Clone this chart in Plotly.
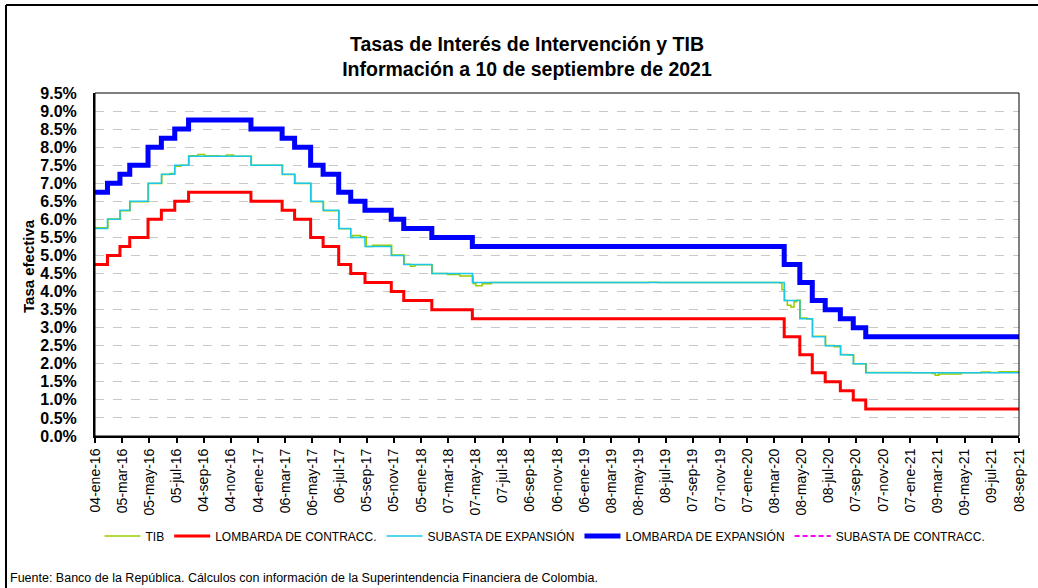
import plotly.graph_objects as go
from datetime import date

# fechas de vigencia de cada cambio de tasa (la ultima es el cierre de la serie)
fechas = ["2016-01-04", "2016-02-01", "2016-02-29", "2016-03-22", "2016-05-02",
          "2016-06-01", "2016-07-01", "2016-08-01", "2016-12-19", "2017-02-27",
          "2017-03-27", "2017-05-02", "2017-05-30", "2017-07-04", "2017-07-31",
          "2017-09-01", "2017-10-30", "2017-11-27", "2018-01-29", "2018-04-30",
          "2020-03-30", "2020-05-04", "2020-06-01", "2020-06-30", "2020-08-03",
          "2020-09-01", "2020-09-29", "2021-09-10"]

# tasas en %
lombarda_exp = [6.75, 7.00, 7.25, 7.50, 8.00, 8.25, 8.50, 8.75, 8.50, 8.25,
                8.00, 7.50, 7.25, 6.75, 6.50, 6.25, 6.00, 5.75, 5.50, 5.25,
                4.75, 4.25, 3.75, 3.50, 3.25, 3.00, 2.75, 2.75]
subasta_exp = [5.75, 6.00, 6.25, 6.50, 7.00, 7.25, 7.50, 7.75, 7.50, 7.25,
               7.00, 6.50, 6.25, 5.75, 5.50, 5.25, 5.00, 4.75, 4.50, 4.25,
               3.75, 3.25, 2.75, 2.50, 2.25, 2.00, 1.75, 1.75]
lombarda_contr = [4.75, 5.00, 5.25, 5.50, 6.00, 6.25, 6.50, 6.75, 6.50, 6.25,
                  6.00, 5.50, 5.25, 4.75, 4.50, 4.25, 4.00, 3.75, 3.50, 3.25,
                  2.75, 2.25, 1.75, 1.50, 1.25, 1.00, 0.75, 0.75]

# TIB diaria (aprox.)
tib_fechas = ["2016-01-04", "2016-02-02", "2016-03-01", "2016-03-23", "2016-05-03",
              "2016-06-02", "2016-06-20", "2016-07-01", "2016-07-15", "2016-08-02",
              "2016-08-22", "2016-09-06", "2016-10-10", "2016-10-25", "2016-11-10",
              "2016-12-20", "2017-02-28", "2017-03-28", "2017-05-03", "2017-05-31",
              "2017-07-05", "2017-07-31", "2017-08-04", "2017-08-22", "2017-09-04",
              "2017-09-18", "2017-10-31", "2017-11-28", "2017-12-12", "2017-12-22",
              "2018-01-30", "2018-03-05", "2018-04-02", "2018-05-02", "2018-05-08",
              "2018-05-22", "2018-06-12", "2019-06-01", "2019-06-20", "2020-03-20",
              "2020-03-25", "2020-03-31", "2020-04-06", "2020-04-14", "2020-04-21",
              "2020-04-27", "2020-05-05", "2020-05-20", "2020-06-02", "2020-07-01",
              "2020-07-20", "2020-08-04", "2020-08-20", "2020-09-02", "2020-09-30",
              "2021-01-10", "2021-02-25", "2021-03-04", "2021-03-12", "2021-05-01",
              "2021-06-15", "2021-07-05", "2021-07-25", "2021-09-10"]
tib = [5.77, 6.01, 6.24, 6.49, 6.99,
       7.24, 7.27, 7.47, 7.50, 7.76,
       7.80, 7.76, 7.75, 7.78, 7.75,
       7.50, 7.24, 6.99, 6.49, 6.24,
       5.74, 5.50, 5.55, 5.52, 5.25,
       5.28, 5.01, 4.76, 4.70, 4.74,
       4.50, 4.47, 4.43, 4.22, 4.16,
       4.22, 4.25, 4.26, 4.25, 4.24,
       4.05, 3.75, 3.62, 3.57, 3.72,
       3.76, 3.27, 3.24, 2.76, 2.51,
       2.47, 2.26, 2.24, 2.00, 1.76,
       1.75, 1.73, 1.68, 1.72, 1.75,
       1.77, 1.76, 1.78, 1.77]

etiquetas_x = ["04-ene-16", "05-mar-16", "05-may-16", "05-jul-16", "04-sep-16",
               "04-nov-16", "04-ene-17", "06-mar-17", "06-may-17", "06-jul-17",
               "05-sep-17", "05-nov-17", "05-ene-18", "07-mar-18", "07-may-18",
               "07-jul-18", "06-sep-18", "06-nov-18", "06-ene-19", "08-mar-19",
               "08-may-19", "08-jul-19", "07-sep-19", "07-nov-19", "07-ene-20",
               "08-mar-20", "08-may-20", "08-jul-20", "07-sep-20", "07-nov-20",
               "07-ene-21", "09-mar-21", "09-may-21", "09-jul-21", "08-sep-21"]

meses = {"ene": 1, "feb": 2, "mar": 3, "abr": 4, "may": 5, "jun": 6,
         "jul": 7, "ago": 8, "sep": 9, "oct": 10, "nov": 11, "dic": 12}
ticks_x = []
for e in etiquetas_x:
    d, m, a = e.split("-")
    ticks_x.append(date(2000 + int(a), meses[m], int(d)).isoformat())

# area de trazado en pixeles de la pagina
L, R, T, B = 95, 1019, 93, 436


def px(x):
    return (x - L) / (R - L)


def py(y):
    return (B - y) / (B - T)


fig = go.Figure()
fig.add_trace(go.Scatter(x=tib_fechas, y=tib, name="TIB", mode="lines",
                         line=dict(color="#99CC00", width=1.5, shape="hv")))
fig.add_trace(go.Scatter(x=fechas, y=lombarda_contr, name="LOMBARDA DE CONTRACC.", mode="lines",
                         line=dict(color="#FF0000", width=3, shape="hv")))
fig.add_trace(go.Scatter(x=fechas, y=subasta_exp, name="SUBASTA DE EXPANSIÓN", mode="lines",
                         line=dict(color="#1CC8EA", width=1.5, shape="hv")))
fig.add_trace(go.Scatter(x=fechas, y=lombarda_exp, name="LOMBARDA DE EXPANSIÓN", mode="lines",
                         line=dict(color="#0000FF", width=5, shape="hv")))
fig.add_trace(go.Scatter(x=[None], y=[None], name="SUBASTA DE CONTRACC.", mode="lines",
                         line=dict(color="#FF00FF", width=2, dash="5px,3px")))

fig.update_xaxes(
    type="date",
    range=[ticks_x[0], ticks_x[-1]],
    tickmode="array", tickvals=ticks_x, ticktext=etiquetas_x,
    tickangle=-90, tickfont=dict(size=14),
    ticks="outside", ticklen=5, tickwidth=1.5, tickcolor="black",
    showline=True, linecolor="black", linewidth=2,
    showgrid=False, zeroline=False,
)
fig.update_yaxes(
    range=[0, 9.5], dtick=0.5, tickformat=".1f", ticksuffix="%",
    tickfont=dict(size=16, weight=700), ticklabelstandoff=13,
    showline=True, linecolor="black", linewidth=2,
    showgrid=True, gridcolor="#C8C8C8", griddash="dash", gridwidth=1,
    zeroline=False, ticks="",
)

fig.update_layout(
    width=1038, height=588,
    margin=dict(l=L, r=1038 - R, t=T, b=588 - B),
    paper_bgcolor="white", plot_bgcolor="white",
    font=dict(family="Liberation Sans, Arial, sans-serif", color="black"),
    title=dict(text="Tasas de Interés de Intervención y TIB<br>Información a 10 de septiembre de 2021",
               font=dict(size=19.5, weight=700),
               x=527 / 1038, xref="container", xanchor="center",
               y=1 - 51 / 588, yref="container", yanchor="middle"),
    legend=dict(orientation="h", x=px(545), xanchor="center", y=py(536), yanchor="middle",
                font=dict(size=12), bgcolor="rgba(0,0,0,0)", itemwidth=36),
    shapes=[
        dict(type="rect", xref="paper", yref="paper", x0=0, x1=1, y0=0, y1=1,
             line=dict(color="black", width=1)),
        # marco exterior
        dict(type="line", xref="paper", yref="paper", x0=px(6), x1=px(6), y0=py(5), y1=py(600),
             line=dict(color="black", width=2)),
        dict(type="line", xref="paper", yref="paper", x0=px(6), x1=px(1050), y0=py(5), y1=py(5),
             line=dict(color="black", width=2)),
    ],
    annotations=[
        dict(text="Tasa efectiva", textangle=-90, xref="paper", yref="paper",
             x=px(28), y=py(266), xanchor="center", yanchor="middle", showarrow=False,
             font=dict(size=15, weight=700)),
        dict(text="Fuente: Banco de la República. Cálculos con información de la Superintendencia Financiera de Colombia.",
             xref="paper", yref="paper", x=px(8), y=py(578), xanchor="left", yanchor="middle",
             showarrow=False, font=dict(size=12.5)),
    ],
)

fig.write_html("out.html", config={"displayModeBar": False},
               post_script="document.body.style.margin='0';")
